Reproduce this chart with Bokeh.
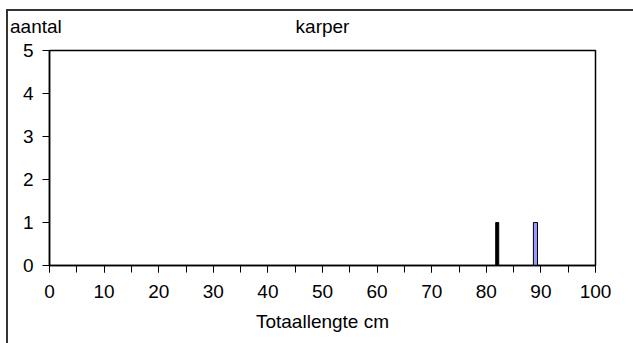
from bokeh.plotting import figure
from bokeh.models import Range1d, FixedTicker, Label
from bokeh.embed import file_html
from bokeh.resources import INLINE

# Length-frequency counts for carp (karper), two sampling series
lengths_a = [82]
counts_a = [1]
lengths_b = [89]
counts_b = [1]

x_ticks = [0, 10, 20, 30, 40, 50, 60, 70, 80, 90, 100]
x_minor = [0, 5, 10, 15, 20, 25, 30, 35, 40, 45, 50, 55, 60, 65, 70, 75, 80, 85, 90, 95, 100]
y_ticks = [0, 1, 2, 3, 4, 5]

title_text = "karper"
y_caption = "aantal"
x_caption = "Totaallengte cm"

FONT = "Liberation Sans"
FS = "19px"

p = figure(width=633, height=343, output_backend="svg", toolbar_location=None,
           x_range=Range1d(0, 100), y_range=Range1d(0, 5),
           min_border_left=49, min_border_right=38, min_border_top=50, min_border_bottom=78)

# outer chart border: left and top edges only, the rest runs off the page
p.styles = {
    "background-color": "white",
    "background-image": "linear-gradient(#333, #333), linear-gradient(#333, #333)",
    "background-size": "2px 400px, 700px 2px",
    "background-position": "6px 9px, 6px 9px",
    "background-repeat": "no-repeat",
}

p.background_fill_color = "white"
p.border_fill_color = None
p.outline_line_color = "black"
p.outline_line_width = 1.5
p.xgrid.visible = False
p.ygrid.visible = False

p.vbar(x=lengths_a, top=counts_a, width=0.55, bottom=0,
       fill_color="black", line_color="black", line_width=1)
p.vbar(x=lengths_b, top=counts_b, width=0.75, bottom=0,
       fill_color="#9999FF", line_color="black", line_width=1)

xa = p.xaxis[0]
xa.ticker = FixedTicker(ticks=x_ticks, minor_ticks=x_minor)
xa.axis_line_color = "black"
xa.axis_line_width = 1.5
xa.major_tick_out = 7
xa.major_tick_in = 0
xa.minor_tick_out = 7
xa.minor_tick_in = 0
xa.major_tick_line_color = "black"
xa.minor_tick_line_color = "black"
xa.major_label_text_font = FONT
xa.major_label_text_font_size = FS
xa.major_label_text_color = "black"
xa.major_label_standoff = 12
xa.axis_label = x_caption
xa.axis_label_text_font = FONT
xa.axis_label_text_font_size = FS
xa.axis_label_text_font_style = "normal"
xa.axis_label_text_color = "black"
xa.axis_label_standoff = 10

ya = p.yaxis[0]
ya.ticker = FixedTicker(ticks=y_ticks, minor_ticks=[])
ya.axis_line_color = "black"
ya.axis_line_width = 1.5
ya.major_tick_out = 7
ya.major_tick_in = 0
ya.major_tick_line_color = "black"
ya.major_label_text_font = FONT
ya.major_label_text_font_size = FS
ya.major_label_text_color = "black"
ya.major_label_standoff = 9

# chart title, centred over the plot area (panel directly above the frame)
p.add_layout(Label(x=273, y=24, x_units="screen", y_units="screen", text=title_text,
                   text_font=FONT, text_font_size=FS, text_align="center",
                   text_baseline="alphabetic", text_color="black"), "above")
# y-axis caption at the top left (next panel up, shifted down onto the same line)
p.add_layout(Label(x=-39.5, y=3, x_units="screen", y_units="screen", text=y_caption,
                   text_font=FONT, text_font_size=FS, text_align="left",
                   text_baseline="alphabetic", text_color="black"), "above")

open("out.html", "w").write(file_html(p, INLINE))
